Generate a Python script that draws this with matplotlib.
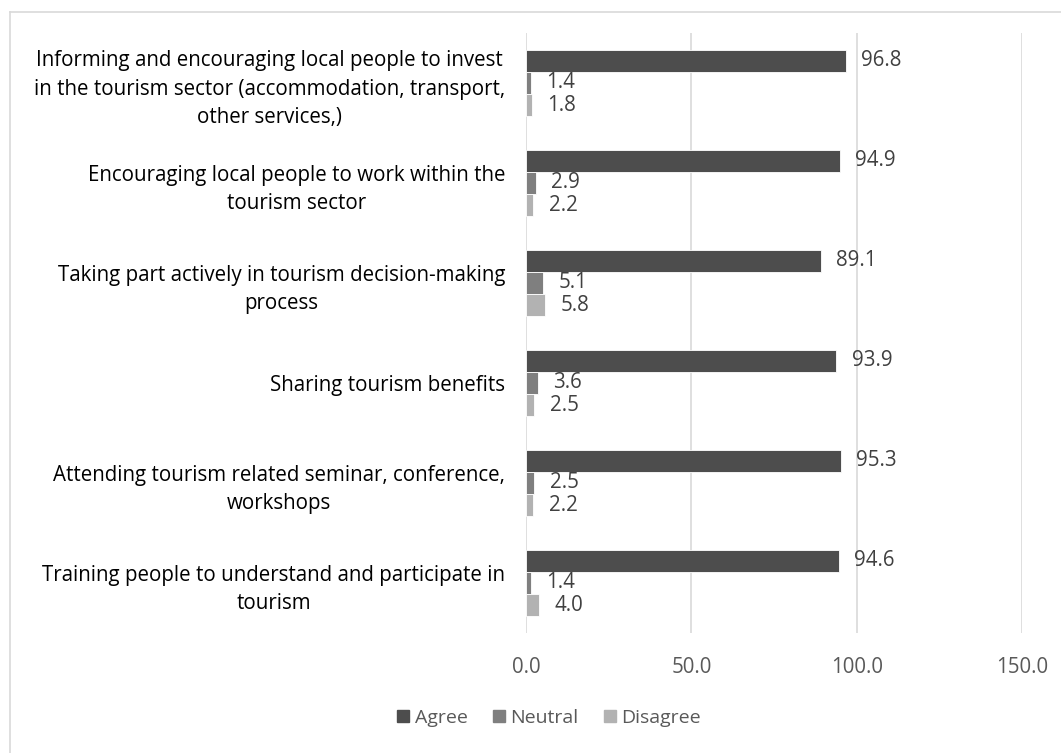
import numpy as np
import matplotlib.pyplot as plt
from matplotlib.lines import Line2D

# DATA
categories = [
    "Informing and encouraging local people to invest\nin the tourism sector (accommodation, transport,\nother services,)",
    "Encouraging local people to work within the\ntourism sector",
    "Taking part actively in tourism decision-making\nprocess",
    "Sharing tourism benefits",
    "Attending tourism related seminar, conference,\nworkshops",
    "Training people to understand and participate in\ntourism",
]
agree = [96.8, 94.9, 89.1, 93.9, 95.3, 94.6]
neutral = [1.4, 2.9, 5.1, 3.6, 2.5, 1.4]
disagree = [1.8, 2.2, 5.8, 2.5, 2.2, 4.0]
series_names = ["Agree", "Neutral", "Disagree"]
xticks = [0, 50, 100, 150]

colors = ["#4d4d4d", "#7f7f7f", "#b2b2b2"]
font = "Open Sans"
fs = 14.8

fig = plt.figure(figsize=(10.61, 7.53), dpi=100)
ax = fig.add_axes([526 / 1061, 120 / 753, 496 / 1061, 600 / 753])

# category positions, first category at top
n = len(categories)
pos = np.arange(n)
h = 0.222

for i, (vals, name) in enumerate(zip([agree, neutral, disagree], series_names)):
    y = pos + (i - 1) * h
    ax.barh(y, vals, height=h, color=colors[i], edgecolor="white", linewidth=0.6, label=name)
    for yy, v in zip(y, vals):
        ax.annotate(f"{v:.1f}", (v, yy), xytext=(11, 0), textcoords="offset points",
                    va="center", ha="left", fontsize=fs, color="#404040", family=font)

ax.set_ylim(n - 0.5, -0.5)
ax.set_xlim(0, 150)
ax.set_yticks(pos)
ax.set_yticklabels(categories, fontsize=fs, family=font, color="black", linespacing=1.45)
for lab in ax.get_yticklabels():
    lab.set_multialignment("center")
ax.tick_params(axis="y", length=0, pad=15)
ax.set_xticks(xticks)
ax.set_xticklabels([f"{t:.1f}" for t in xticks], fontsize=fs, family=font, color="#595959")
ax.tick_params(axis="x", length=0, pad=17)
ax.grid(axis="x", color="#d9d9d9", linewidth=1.2)
ax.set_axisbelow(True)
for s in ax.spines.values():
    s.set_visible(False)

handles = [Line2D([], [], marker="s", linestyle="none", markersize=9, color=c) for c in colors]
fig.legend(handles, series_names, loc="center", bbox_to_anchor=(548 / 1061, 1 - 718 / 753),
           ncol=3, frameon=False, prop={"family": font, "size": 14}, labelcolor="#595959",
           handlelength=0.8, handletextpad=0.2, columnspacing=1.2)

# outer border like the original chart frame
fig.add_artist(Line2D([10 / 1061, 1], [1 - 12 / 753, 1 - 12 / 753], color="#d9d9d9", lw=1.2,
                      transform=fig.transFigure))
fig.add_artist(Line2D([10 / 1061, 10 / 1061], [0, 1 - 12 / 753], color="#d9d9d9", lw=1.2,
                      transform=fig.transFigure))

fig.savefig("out.png", dpi=100)
